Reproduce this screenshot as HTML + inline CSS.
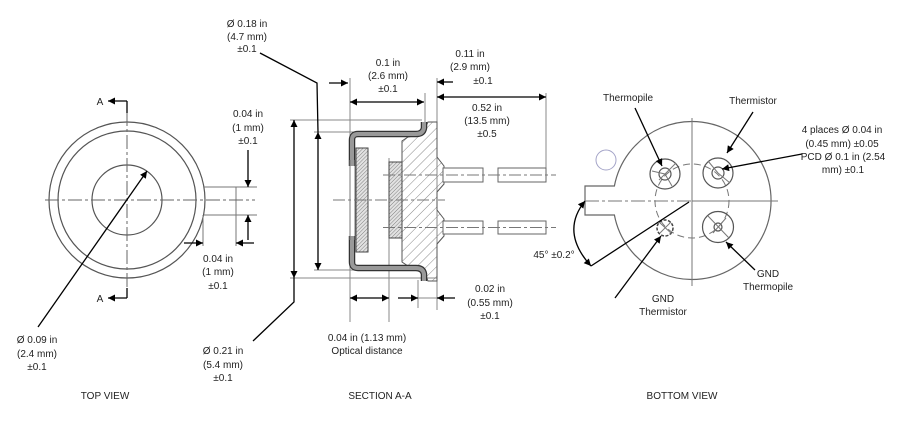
<!DOCTYPE html>
<html><head><meta charset="utf-8"><style>
html,body{margin:0;padding:0;background:#fff;}
svg{display:block;}
text{font-family:"Liberation Sans",sans-serif;font-size:10px;fill:#222;text-anchor:middle;}
</style></head><body>
<svg width="910" height="430" viewBox="0 0 910 430" xmlns="http://www.w3.org/2000/svg">
<defs>
<marker id="ah" viewBox="0 0 10 10" refX="10" refY="5" markerWidth="10" markerHeight="7" orient="auto-start-reverse" markerUnits="userSpaceOnUse"><path d="M0,0 L10,5 L0,10 z" fill="#000"/></marker>
<pattern id="hb" patternUnits="userSpaceOnUse" width="7" height="7" patternTransform="rotate(45)"><line x1="0" y1="0" x2="0" y2="7" stroke="#888" stroke-width="1"/></pattern>
<pattern id="hd" patternUnits="userSpaceOnUse" width="2.6" height="2.6" patternTransform="rotate(45)"><rect width="2.6" height="2.6" fill="#e2e2e2"/><line x1="0" y1="0" x2="0" y2="2.6" stroke="#777" stroke-width="0.9"/></pattern>
</defs>

<!-- ============ TOP VIEW ============ -->
<g fill="none" stroke="#555" stroke-width="1.2">
<circle cx="127" cy="200" r="78"/>
<circle cx="127" cy="200" r="69"/>
<circle cx="127" cy="200" r="35"/>
</g>
<g fill="none" stroke="#777" stroke-width="1">
<line x1="204" y1="187" x2="257" y2="187"/>
<line x1="204" y1="215" x2="257" y2="215"/>
<line x1="236" y1="187" x2="236" y2="246"/>
<line x1="203" y1="215" x2="203" y2="246"/>
</g>
<g fill="none" stroke="#666" stroke-width="1" stroke-dasharray="14 3 3 3">
<line x1="45" y1="200" x2="255" y2="200"/>
<line x1="127" y1="112" x2="127" y2="290"/>
</g>
<g fill="none" stroke="#000" stroke-width="1.3">
<line x1="127" y1="101" x2="127" y2="113"/>
<line x1="127" y1="298" x2="127" y2="288"/>
<line x1="127" y1="101" x2="108" y2="101" marker-end="url(#ah)"/>
<line x1="127" y1="298" x2="108" y2="298" marker-end="url(#ah)"/>
<line x1="248" y1="150" x2="248" y2="187" marker-end="url(#ah)"/>
<line x1="248" y1="240" x2="248" y2="215" marker-end="url(#ah)"/>
<line x1="184" y1="243" x2="203" y2="243" marker-end="url(#ah)"/>
<line x1="254" y1="243" x2="236" y2="243" marker-end="url(#ah)"/>
<line x1="38" y1="327" x2="147" y2="171" marker-end="url(#ah)"/>
</g>
<text x="100" y="105">A</text>
<text x="100" y="302">A</text>
<text x="248" y="117">0.04 in</text>
<text x="248" y="131">(1 mm)</text>
<text x="248" y="144">±0.1</text>
<text x="218" y="262">0.04 in</text>
<text x="218" y="275">(1 mm)</text>
<text x="218" y="289">±0.1</text>
<text x="37" y="343">Ø 0.09 in</text>
<text x="37" y="357">(2.4 mm)</text>
<text x="37" y="370">±0.1</text>
<text x="105" y="399">TOP VIEW</text>

<!-- ============ SECTION A-A ============ -->
<g fill="none" stroke="#888" stroke-width="1">
<line x1="350" y1="78" x2="350" y2="322"/>
<line x1="389" y1="158" x2="389" y2="322"/>
<line x1="425" y1="93" x2="425" y2="122"/>
<line x1="437" y1="78" x2="437" y2="310"/>
<line x1="418" y1="280" x2="418" y2="308"/>
<line x1="546" y1="93" x2="546" y2="168"/>
<line x1="290" y1="120" x2="422" y2="120"/>
<line x1="314" y1="132" x2="418" y2="132"/>
<line x1="314" y1="270" x2="420" y2="270"/>
<line x1="290" y1="278" x2="437" y2="278"/>
<line x1="418" y1="298" x2="437" y2="298"/>
</g>
<!-- base -->
<path d="M402,141 L408,137 L419,135 L426,126 L428,122 L437,122 L437,157 L444,166 L444,184 L437,192 L437,210 L444,219 L444,236 L437,244 L437,281 L428,281 L425,274 L418,268 L408,266 L402,262 Z" fill="url(#hb)" stroke="#555" stroke-width="1"/>
<!-- cap -->
<path d="M424,122 L424,128 Q423,134 416,134 L358,134 Q352,134 352,140 L352,262 Q352,268 358,268 L416,268 Q423,268 424,274 L424,281" fill="none" stroke="#333" stroke-width="6.5"/>
<path d="M424,122 L424,128 Q423,134 416,134 L358,134 Q352,134 352,140 L352,262 Q352,268 358,268 L416,268 Q423,268 424,274 L424,281" fill="none" stroke="#999" stroke-width="4"/>
<rect x="348" y="166" width="9" height="70" fill="#fff"/>
<g stroke="#777" stroke-width="1"><line x1="350" y1="160" x2="350" y2="240"/><line x1="355" y1="160" x2="355" y2="240"/></g>
<!-- filter -->
<rect x="356" y="148" width="12" height="104" fill="url(#hd)" stroke="#444" stroke-width="1"/>
<!-- chip -->
<rect x="389" y="162" width="13" height="76" fill="url(#hd)" stroke="#444" stroke-width="1"/>
<!-- pins -->
<g fill="#fff" stroke="#666" stroke-width="1">
<rect x="443" y="168" width="40" height="14"/>
<rect x="498" y="168" width="48" height="14"/>
<rect x="443" y="221" width="40" height="13"/>
<rect x="498" y="221" width="48" height="13"/>
</g>
<g fill="none" stroke="#777" stroke-width="1" stroke-dasharray="12 3 3 3">
<line x1="333" y1="200" x2="445" y2="200"/>
<line x1="383" y1="175" x2="556" y2="175"/>
<line x1="383" y1="227.5" x2="556" y2="227.5"/>
</g>
<!-- section dims -->
<g fill="none" stroke="#000" stroke-width="1.3">
<line x1="294" y1="120" x2="294" y2="278" marker-start="url(#ah)" marker-end="url(#ah)"/>
<polyline points="294,278 294,302 253,341"/>
<line x1="318" y1="132" x2="318" y2="270" marker-start="url(#ah)" marker-end="url(#ah)"/>
<polyline points="260,53 317,83 318,132"/>
<line x1="350" y1="102" x2="424" y2="102" marker-start="url(#ah)" marker-end="url(#ah)"/>
<line x1="329" y1="83" x2="348" y2="83" marker-end="url(#ah)"/>
<line x1="453" y1="82" x2="437" y2="82" marker-end="url(#ah)"/>
<line x1="437" y1="97" x2="546" y2="97" marker-start="url(#ah)" marker-end="url(#ah)"/>
<line x1="350" y1="298" x2="389" y2="298" marker-start="url(#ah)" marker-end="url(#ah)"/>
<line x1="398" y1="298" x2="418" y2="298" marker-end="url(#ah)"/>
<line x1="455" y1="298" x2="437" y2="298" marker-end="url(#ah)"/>
</g>
<text x="247" y="27">Ø 0.18 in</text>
<text x="247" y="40">(4.7 mm)</text>
<text x="247" y="52">±0.1</text>
<text x="388" y="66">0.1 in</text>
<text x="388" y="79">(2.6 mm)</text>
<text x="388" y="92">±0.1</text>
<text x="470" y="57">0.11 in</text>
<text x="470" y="70">(2.9 mm)</text>
<text x="483" y="84">±0.1</text>
<text x="487" y="111">0.52 in</text>
<text x="487" y="124">(13.5 mm)</text>
<text x="487" y="137">±0.5</text>
<text x="490" y="292">0.02 in</text>
<text x="490" y="306">(0.55 mm)</text>
<text x="490" y="319">±0.1</text>
<text x="367" y="341">0.04 in (1.13 mm)</text>
<text x="367" y="354">Optical distance</text>
<text x="223" y="354">Ø 0.21 in</text>
<text x="223" y="368">(5.4 mm)</text>
<text x="223" y="381">±0.1</text>
<text x="380" y="399">SECTION A-A</text>

<!-- ============ BOTTOM VIEW ============ -->
<path d="M614.4,186 A79,79 0 1,1 614.4,215 L585,215 L585,186 Z" fill="none" stroke="#666" stroke-width="1.2"/>
<circle cx="606" cy="160" r="10" fill="none" stroke="#a4a4c8" stroke-width="1"/>
<g fill="none" stroke="#777" stroke-width="1">
<line x1="692" y1="118" x2="692" y2="286"/>
<line x1="692" y1="201" x2="778" y2="201"/>
</g>
<line x1="585" y1="201" x2="692" y2="201" stroke="#777" stroke-width="1" stroke-dasharray="14 3 3 3"/>
<circle cx="692" cy="201" r="37" fill="none" stroke="#777" stroke-width="1" stroke-dasharray="7 4"/>
<g fill="none" stroke="#555" stroke-width="1.2">
<circle cx="665" cy="174" r="15"/>
<circle cx="665" cy="174" r="6"/>
<circle cx="718" cy="173" r="15"/>
<circle cx="718" cy="173" r="6"/>
<circle cx="718" cy="227" r="15.5"/>
<circle cx="718" cy="227" r="4"/>
<circle cx="665" cy="228" r="8" stroke="#444" stroke-width="1.5" stroke-dasharray="3 1.5"/>
</g>
<g fill="none" stroke="#777" stroke-width="1">
<line x1="659" y1="180" x2="676" y2="163"/>
<line x1="665" y1="174" x2="652" y2="171"/>
<line x1="665" y1="174" x2="672" y2="186"/>
<line x1="718" y1="173" x2="730" y2="183"/>
<line x1="718" y1="173" x2="708" y2="161"/>
<line x1="708" y1="216" x2="729" y2="238"/>
<line x1="713" y1="233" x2="726" y2="218"/>
<line x1="659" y1="222" x2="672" y2="234"/>
<line x1="660" y1="233" x2="671" y2="222"/>
</g>
<g fill="none" stroke="#000" stroke-width="1.3">
<line x1="635" y1="108" x2="662" y2="166" marker-end="url(#ah)"/>
<line x1="753" y1="112" x2="727" y2="153" marker-end="url(#ah)"/>
<line x1="802" y1="154" x2="722" y2="169" marker-end="url(#ah)"/>
<line x1="755" y1="270" x2="726" y2="242" marker-end="url(#ah)"/>
<line x1="615" y1="298" x2="661" y2="236" marker-end="url(#ah)"/>
<line x1="591" y1="266" x2="689" y2="202"/>
<path d="M585,201 Q560,232 591,266" marker-start="url(#ah)" marker-end="url(#ah)"/>
</g>
<text x="628" y="101">Thermopile</text>
<text x="753" y="104">Thermistor</text>
<text x="842" y="133">4 places Ø 0.04 in</text>
<text x="842" y="147">(0.45 mm) ±0.05</text>
<text x="843" y="160">PCD Ø 0.1 in (2.54</text>
<text x="843" y="173">mm) ±0.1</text>
<text x="554" y="258">45° ±0.2°</text>
<text x="768" y="277">GND</text>
<text x="768" y="290">Thermopile</text>
<text x="663" y="302">GND</text>
<text x="663" y="315">Thermistor</text>
<text x="682" y="399">BOTTOM VIEW</text>
</svg>
</body></html>
